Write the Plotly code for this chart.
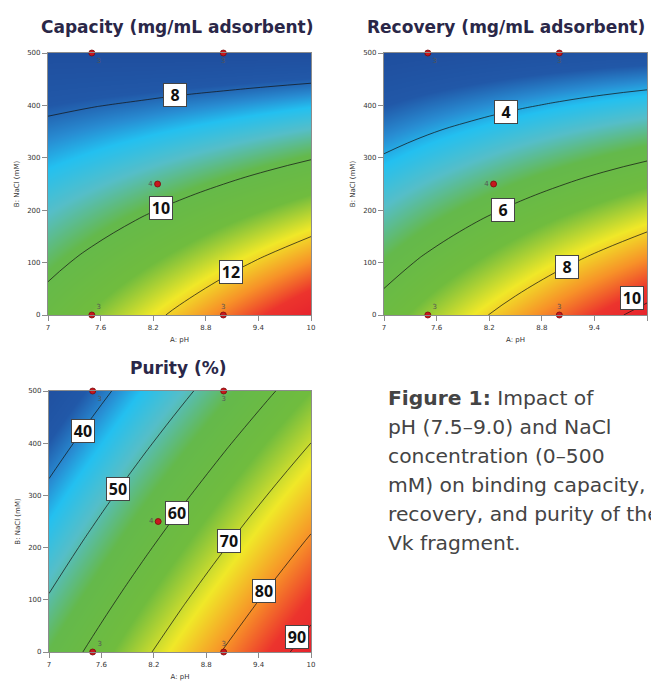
import plotly.graph_objects as go

# ---------------- data ----------------
ph = [7.0, 7.5, 8.0, 8.5, 9.0, 9.5, 10.0]
nacl = [0, 100, 200, 300, 400, 500]

capacity = [
    [10.40, 10.99, 11.58, 12.19, 12.80, 13.42, 14.05],
    [9.77, 10.23, 10.71, 11.19, 11.68, 12.18, 12.68],
    [9.14, 9.48, 9.83, 10.19, 10.56, 10.93, 11.31],
    [8.50, 8.72, 8.95, 9.19, 9.43, 9.69, 9.95],
    [7.87, 7.97, 8.07, 8.19, 8.31, 8.44, 8.58],
    [7.24, 7.22, 7.20, 7.19, 7.19, 7.20, 7.21],
]
recovery = [
    [6.39, 7.07, 7.75, 8.41, 9.06, 9.70, 10.34],
    [5.62, 6.18, 6.73, 7.28, 7.82, 8.34, 8.86],
    [4.84, 5.29, 5.72, 6.15, 6.57, 6.98, 7.39],
    [4.06, 4.39, 4.71, 5.03, 5.33, 5.63, 5.91],
    [3.28, 3.50, 3.70, 3.90, 4.09, 4.27, 4.44],
    [2.51, 2.60, 2.69, 2.77, 2.84, 2.91, 2.96],
]
purity = [
    [55.10, 61.42, 67.73, 74.05, 80.37, 86.68, 93.00],
    [50.55, 56.67, 62.79, 68.91, 75.02, 81.14, 87.26],
    [46.00, 51.92, 57.84, 63.76, 69.68, 75.60, 81.52],
    [41.46, 47.18, 52.90, 58.62, 64.34, 70.06, 75.78],
    [36.91, 42.43, 47.95, 53.47, 59.00, 64.52, 70.04],
    [32.36, 37.68, 43.01, 48.33, 53.65, 58.98, 64.30],
]

# design points (pH, NaCl, replicates)
run_ph = [7.5, 7.5, 9.0, 9.0, 8.25]
run_nacl = [0, 500, 0, 500, 250]
run_reps = ["3", "3", "3", "3", "4"]

# contour levels
cap_levels = [8, 10, 12]
rec_levels = [4, 6, 8, 10]
pur_levels = [40, 50, 60, 70, 80, 90]

x_ticks = [7, 7.6, 8.2, 8.8, 9.4, 10]
x_ticktext = ["7", "7.6", "8.2", "8.8", "9.4", "10"]
y_ticks = [0, 100, 200, 300, 400, 500]

titles = ["Capacity (mg/mL adsorbent)", "Recovery (mg/mL adsorbent)", "Purity (%)"]
caption_lines = ["<b>Figure 1:</b> Impact of", "pH (7.5–9.0) and NaCl", "concentration (0–500",
                 "mM) on binding capacity,", "recovery, and purity of the", "Vk fragment."]

# ---------------- styling ----------------
W, H = 651, 684
colorscale = [
    [0.00, "rgb(31,78,158)"],
    [0.10, "rgb(33,88,168)"],
    [0.16, "rgb(40,140,210)"],
    [0.21, "rgb(35,192,240)"],
    [0.29, "rgb(85,190,200)"],
    [0.39, "rgb(100,185,75)"],
    [0.54, "rgb(112,188,62)"],
    [0.67, "rgb(240,232,40)"],
    [0.79, "rgb(247,145,40)"],
    [0.90, "rgb(236,52,45)"],
    [1.00, "rgb(230,35,45)"],
]

def px_x(p):
    return p / W

def px_y(p):
    return 1 - p / H

panels = [
    dict(z=capacity, levels=cap_levels, xd=[px_x(48), px_x(311)], yd=[px_y(315), px_y(53)], zlow_pad=0.0),
    dict(z=recovery, levels=rec_levels, xd=[px_x(384), px_x(647)], yd=[px_y(315), px_y(53)], zlow_pad=0.0),
    dict(z=purity, levels=pur_levels, xd=[px_x(49), px_x(311)], yd=[px_y(652), px_y(391)], zlow_pad=1.9),
]

label_pos = [
    [(8.45, 420), (8.29, 204), (9.09, 82)],
    [(8.39, 387), (8.36, 200), (9.09, 92), (9.83, 32)],
    [(7.39, 423), (7.79, 312), (8.47, 266), (9.06, 213), (9.46, 117), (9.84, 29)],
]

fig = go.Figure()
annotations = []
for i, pnl in enumerate(panels):
    xa = "x" if i == 0 else f"x{i+1}"
    ya = "y" if i == 0 else f"y{i+1}"
    flat = [v for row in pnl["z"] for v in row]
    zmin, zmax = min(flat) - pnl["zlow_pad"], max(flat)
    fig.add_trace(go.Heatmap(
        x=ph, y=nacl, z=pnl["z"], zsmooth="best", colorscale=colorscale,
        zmin=zmin, zmax=zmax, showscale=False, hoverinfo="skip",
        xaxis=xa, yaxis=ya))
    lv = pnl["levels"]
    fig.add_trace(go.Contour(
        x=ph, y=nacl, z=pnl["z"],
        contours=dict(start=lv[0], end=lv[-1], size=lv[1] - lv[0], coloring="none"),
        line=dict(color="rgba(20,20,20,0.9)", width=0.8, smoothing=1.3),
        showscale=False, hoverinfo="skip", xaxis=xa, yaxis=ya))
    fig.add_trace(go.Scatter(
        x=run_ph, y=run_nacl, mode="markers+text", text=run_reps,
        textposition=["top right", "bottom right", "top center", "bottom center", "middle left"],
        textfont=dict(size=7, color="#555555", family="DejaVu Sans"),
        marker=dict(size=6, color="#c8171e", line=dict(color="#7a0a0a", width=0.8)),
        cliponaxis=False, hoverinfo="skip", showlegend=False, xaxis=xa, yaxis=ya))
    for lvl, (lx, ly) in zip(lv, label_pos[i]):
        annotations.append(dict(
            x=lx, y=ly, xref=xa, yref=ya, text=f"<b>{lvl}</b>", showarrow=False,
            font=dict(size=16, color="#111111", family="Open Sans"),
            bgcolor="white", bordercolor="#444444", borderwidth=1, borderpad=1,
            width=20, height=20, xanchor="center", yanchor="middle"))
    axis_common = dict(showline=True, linecolor="#8c8c8c", linewidth=1.2, mirror=True,
                       ticks="outside", ticklen=5, tickcolor="#8c8c8c", tickwidth=1,
                       tickfont=dict(size=7, color="#333333", family="DejaVu Sans"),
                       showgrid=False, zeroline=False, automargin=False)
    fig.update_layout(**{
        ("xaxis" if i == 0 else f"xaxis{i+1}"): dict(
            domain=pnl["xd"], range=[7, 10], tickvals=x_ticks, ticktext=x_ticktext,
            anchor=ya, title=dict(text="A: pH", font=dict(size=7, color="#333333", family="DejaVu Sans"), standoff=6),
            **axis_common),
        ("yaxis" if i == 0 else f"yaxis{i+1}"): dict(
            domain=pnl["yd"], range=[0, 500], tickvals=y_ticks,
            anchor=xa, title=dict(text="B: NaCl (mM)", font=dict(size=7, color="#333333", family="DejaVu Sans"), standoff=6),
            **axis_common),
    })

title_pos = [(177, 27), (506, 27), (178, 368)]
for t, (tx, ty) in zip(titles, title_pos):
    annotations.append(dict(
        x=px_x(tx), y=px_y(ty), xref="paper", yref="paper", text=f"<b>{t}</b>",
        showarrow=False, xanchor="center", yanchor="middle",
        font=dict(size=17, color="#2a2748", family="DejaVu Sans")))

for k, line in enumerate(caption_lines):
    annotations.append(dict(
        x=px_x(386), y=px_y(398 + 29 * k), xref="paper", yref="paper", text=line,
        showarrow=False, xanchor="left", yanchor="middle", align="left",
        font=dict(size=20.3, color="#444444", family="DejaVu Sans")))

fig.update_layout(
    width=W, height=H, margin=dict(l=0, r=0, t=0, b=0),
    paper_bgcolor="white", plot_bgcolor="white", showlegend=False,
    annotations=annotations)

fig.write_html("out.html", config={"displayModeBar": False},
               post_script="document.body.style.margin='0px';")
